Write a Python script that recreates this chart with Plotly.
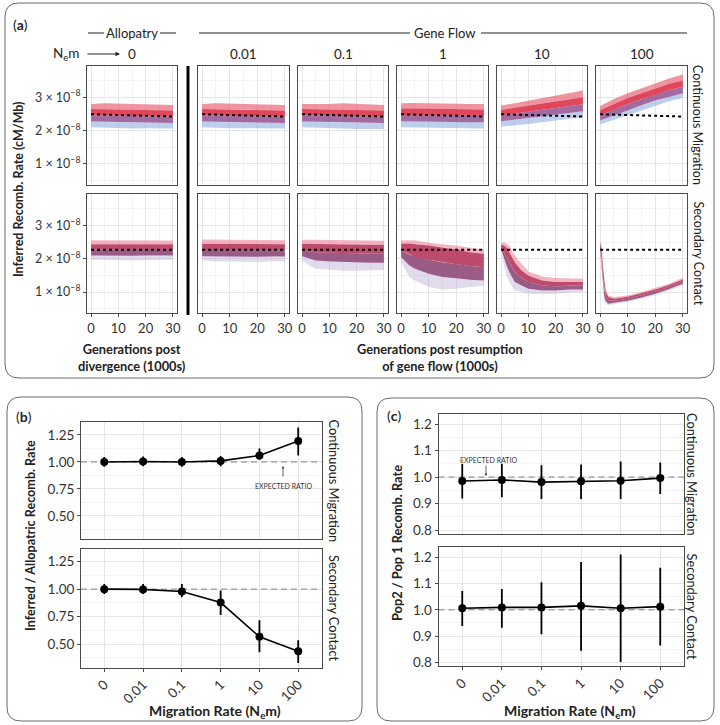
import plotly.graph_objects as go

W, H = 720, 725
FONT = "Lato"
TXT = "#222222"

# ---------------- data ----------------
NM_LABELS = ["0", "0.01", "0.1", "1", "10", "100"]
GEN_TICKS = [0, 10, 20, 30]
RATE_TICKS = [1, 2, 3]
RATE_TICK_TEXT = ["1 × 10<sup>−8</sup>", "2 × 10<sup>−8</sup>", "3 × 10<sup>−8</sup>"]

# expected rate (dashed), units of 1e-8 cM/Mb
EXP_T = [0, 30]
EXP_CM = [2.49, 2.42]
EXP_SC = [2.27, 2.27]

# envelopes of the replicate trajectories: (t, outer_lo, core_lo, core_hi, outer_hi), 1e-8 units
CM_NM0 = [(0, 2.10, 2.27, 2.65, 2.80), (5, 2.08, 2.26, 2.64, 2.82), (10, 2.08, 2.25, 2.63, 2.80),
          (15, 2.06, 2.25, 2.62, 2.79), (20, 2.07, 2.24, 2.62, 2.80), (25, 2.06, 2.23, 2.61, 2.78),
          (30, 2.06, 2.23, 2.60, 2.77)]
CM_NM001 = [(0, 2.10, 2.27, 2.65, 2.80), (5, 2.08, 2.26, 2.65, 2.82), (10, 2.07, 2.25, 2.64, 2.80),
            (15, 2.07, 2.25, 2.63, 2.80), (20, 2.06, 2.24, 2.62, 2.79), (25, 2.06, 2.23, 2.61, 2.78),
            (30, 2.06, 2.23, 2.60, 2.77)]
CM_NM01 = [(0, 2.10, 2.27, 2.65, 2.80), (5, 2.08, 2.26, 2.64, 2.81), (10, 2.07, 2.25, 2.64, 2.80),
           (15, 2.06, 2.25, 2.63, 2.82), (20, 2.05, 2.24, 2.62, 2.80), (25, 2.04, 2.23, 2.61, 2.78),
           (30, 2.05, 2.23, 2.60, 2.77)]
CM_NM1 = [(0, 2.10, 2.28, 2.66, 2.82), (5, 2.09, 2.27, 2.66, 2.83), (10, 2.08, 2.27, 2.65, 2.82),
          (15, 2.08, 2.26, 2.65, 2.82), (20, 2.07, 2.26, 2.64, 2.81), (25, 2.07, 2.25, 2.64, 2.80),
          (30, 2.06, 2.25, 2.63, 2.80)]
CM_NM10 = [(0, 2.12, 2.28, 2.62, 2.75), (5, 2.15, 2.33, 2.68, 2.82), (10, 2.20, 2.38, 2.75, 2.90),
           (15, 2.25, 2.43, 2.82, 2.98), (20, 2.30, 2.48, 2.88, 3.05), (25, 2.35, 2.53, 2.94, 3.12),
           (30, 2.40, 2.58, 3.00, 3.20)]
CM_NM100 = [(0, 2.18, 2.30, 2.62, 2.74), (5, 2.32, 2.46, 2.80, 2.95), (10, 2.48, 2.62, 2.98, 3.12),
            (15, 2.62, 2.76, 3.12, 3.28), (20, 2.76, 2.90, 3.26, 3.42), (25, 2.88, 3.02, 3.40, 3.56),
            (30, 2.98, 3.12, 3.50, 3.68)]

SC_NM0 = [(0, 1.97, 2.10, 2.44, 2.56), (5, 1.96, 2.09, 2.44, 2.56), (10, 1.97, 2.10, 2.44, 2.57),
          (15, 1.95, 2.09, 2.43, 2.56), (20, 1.96, 2.10, 2.44, 2.56), (25, 1.96, 2.09, 2.44, 2.55),
          (30, 1.97, 2.10, 2.44, 2.55)]
SC_NM001 = [(0, 1.95, 2.08, 2.45, 2.58), (5, 1.92, 2.07, 2.45, 2.57), (10, 1.92, 2.07, 2.44, 2.57),
            (15, 1.90, 2.07, 2.44, 2.56), (20, 1.90, 2.06, 2.44, 2.56), (25, 1.92, 2.07, 2.44, 2.56),
            (30, 1.93, 2.07, 2.44, 2.56)]
SC_NM01 = [(0, 1.95, 2.08, 2.45, 2.57), (3, 1.78, 2.00, 2.45, 2.57), (5, 1.70, 1.95, 2.45, 2.57),
           (10, 1.66, 1.92, 2.44, 2.56), (15, 1.64, 1.90, 2.43, 2.55), (20, 1.64, 1.90, 2.43, 2.55),
           (25, 1.65, 1.88, 2.42, 2.55), (30, 1.66, 1.88, 2.42, 2.54)]
SC_NM1 = [(0, 1.90, 2.05, 2.45, 2.55), (3, 1.45, 1.80, 2.46, 2.56), (5, 1.35, 1.70, 2.44, 2.55),
          (10, 1.15, 1.55, 2.40, 2.48), (15, 1.08, 1.45, 2.35, 2.44), (20, 1.10, 1.40, 2.28, 2.40),
          (25, 1.15, 1.37, 2.20, 2.33), (30, 1.18, 1.35, 2.15, 2.27)]
SC_NM10 = [(0, 2.22, 2.28, 2.42, 2.48), (1, 1.80, 2.00, 2.40, 2.50), (2, 1.50, 1.80, 2.35, 2.46),
           (3, 1.30, 1.60, 2.20, 2.40), (5, 1.05, 1.30, 1.90, 2.10), (7.5, 1.00, 1.20, 1.65, 1.85),
           (10, 0.95, 1.10, 1.50, 1.62), (15, 0.95, 1.05, 1.35, 1.47), (20, 0.95, 1.05, 1.30, 1.42),
           (25, 0.98, 1.08, 1.30, 1.40), (30, 1.00, 1.08, 1.30, 1.40)]
SC_NM100 = [(0, 2.20, 2.25, 2.45, 2.50), (0.5, 1.60, 1.75, 2.30, 2.45), (1, 1.00, 1.15, 1.75, 1.90),
            (1.5, 0.75, 0.85, 1.30, 1.40), (2, 0.65, 0.72, 1.00, 1.10), (3, 0.60, 0.65, 0.85, 0.90),
            (5, 0.64, 0.68, 0.80, 0.85), (10, 0.70, 0.74, 0.86, 0.90), (15, 0.80, 0.84, 0.96, 1.00),
            (20, 0.90, 0.95, 1.08, 1.13), (25, 1.05, 1.09, 1.21, 1.25), (30, 1.20, 1.25, 1.38, 1.43)]

CM_BANDS = [CM_NM0, CM_NM001, CM_NM01, CM_NM1, CM_NM10, CM_NM100]
SC_BANDS = [SC_NM0, SC_NM001, SC_NM01, SC_NM1, SC_NM10, SC_NM100]

# panel (b): inferred / allopatric ratio
B_CM_MEAN = [1.000, 1.005, 1.000, 1.010, 1.060, 1.195]
B_CM_LO = [0.955, 0.960, 0.955, 0.960, 1.020, 1.060]
B_CM_HI = [1.045, 1.050, 1.045, 1.055, 1.125, 1.320]
B_SC_MEAN = [1.000, 0.998, 0.979, 0.878, 0.566, 0.434]
B_SC_LO = [0.955, 0.955, 0.927, 0.765, 0.425, 0.327]
B_SC_HI = [1.046, 1.046, 1.046, 0.988, 0.716, 0.535]

# panel (c): pop2 / pop1 ratio
C_CM_MEAN = [0.985, 0.989, 0.981, 0.984, 0.986, 0.996]
C_CM_LO = [0.919, 0.924, 0.917, 0.917, 0.917, 0.936]
C_CM_HI = [1.049, 1.050, 1.045, 1.047, 1.059, 1.055]
C_SC_MEAN = [1.006, 1.009, 1.009, 1.015, 1.006, 1.012]
C_SC_LO = [0.939, 0.932, 0.907, 0.845, 0.802, 0.865]
C_SC_HI = [1.071, 1.079, 1.104, 1.181, 1.210, 1.159]

# ---------------- helpers ----------------
def fx(p):
    return p / W


def fy(p):
    return 1 - p / H


def axname(kind, i):
    return f"{kind}axis" if i == 1 else f"{kind}axis{i}"


def axref(kind, i):
    return kind if i == 1 else f"{kind}{i}"


fig = go.Figure()
layout = {}
BORDER = "#4a4a4a"
GRID = "#e6e6e6"
MINOR = "#f3f3f3"
TICKC = "#333333"


def base_axis(domain, rng, showlabels, size=13, **kw):
    d = dict(domain=domain, range=rng, showline=True, mirror=True, linecolor=BORDER, linewidth=1,
             showgrid=True, gridcolor=GRID, gridwidth=1, zeroline=False, automargin=False,
             ticks="outside" if showlabels else "", ticklen=3, tickcolor=BORDER,
             showticklabels=showlabels, tickfont=dict(family=FONT, size=size, color=TICKC),
             fixedrange=True)
    d.update(kw)
    return d


# ---------------- panel (a) ----------------
COLS = [(87, 177), (198, 289), (298, 388), (397, 488), (497, 587), (596, 687)]
ROWS = [(65.5, 185), (194, 313)]

ROW_STYLE = [
    dict(out_lo="rgba(125,160,220,0.50)", out_hi="rgba(228,60,85,0.55)",
         core_lo="rgba(150,85,148,0.88)", core_hi="rgba(220,45,68,0.88)"),
    dict(out_lo="rgba(175,160,210,0.38)", out_hi="rgba(232,100,128,0.48)",
         core_lo="rgba(140,68,118,0.88)", core_hi="rgba(182,50,88,0.88)"),
]


def band(i, t, lo, hi, color):
    fig.add_trace(go.Scatter(x=t + t[::-1], y=lo + hi[::-1], fill="toself", fillcolor=color,
                             line=dict(width=0), mode="lines", hoverinfo="skip", showlegend=False,
                             xaxis=axref("x", i), yaxis=axref("y", i)))


for r, (bands, exp) in enumerate([(CM_BANDS, EXP_CM), (SC_BANDS, EXP_SC)]):
    st = ROW_STYLE[r]
    for c, tab in enumerate(bands):
        i = r * 6 + c + 1
        x0, x1 = COLS[c]
        y0, y1 = ROWS[r]
        layout[axname("x", i)] = base_axis(
            [fx(x0), fx(x1)], [-1.5, 31.5], r == 1, size=13, anchor=axref("y", i), tickvals=GEN_TICKS,
            minor=dict(tickvals=[5, 15, 25], showgrid=True, gridcolor=MINOR, gridwidth=1))
        layout[axname("y", i)] = base_axis(
            [fy(y1), fy(y0)], [0.37, 3.95], c == 0, size=12.5, anchor=axref("x", i), tickvals=RATE_TICKS,
            ticktext=RATE_TICK_TEXT,
            minor=dict(tickvals=[0.5, 1.5, 2.5, 3.5], showgrid=True, gridcolor=MINOR, gridwidth=1))
        t = [row[0] for row in tab]
        olo = [row[1] for row in tab]
        clo = [row[2] for row in tab]
        chi = [row[3] for row in tab]
        ohi = [row[4] for row in tab]
        mid = [(a + b) / 2 for a, b in zip(clo, chi)]
        band(i, t, olo, clo, st["out_lo"])
        band(i, t, chi, ohi, st["out_hi"])
        band(i, t, clo, mid, st["core_lo"])
        band(i, t, mid, chi, st["core_hi"])
        fig.add_trace(go.Scatter(x=EXP_T, y=exp, mode="lines", hoverinfo="skip", showlegend=False,
                                 line=dict(color="black", width=2, dash="3px,3px"),
                                 xaxis=axref("x", i), yaxis=axref("y", i)))

# ---------------- panels (b) and (c) ----------------
B_X = (81, 321.5)
C_X = (438.5, 684)
B_ROWS = [(422, 539), (548.5, 667.5)]
C_ROWS = [(414, 533.5), (547, 666)]
XIDX = list(range(len(NM_LABELS)))

specs = [
    (13, B_X, B_ROWS[0], False, B_CM_MEAN, B_CM_LO, B_CM_HI, [0.287, 1.37], [0.5, 0.75, 1.0, 1.25], ".2f", 0.125),
    (14, B_X, B_ROWS[1], True, B_SC_MEAN, B_SC_LO, B_SC_HI, [0.287, 1.37], [0.5, 0.75, 1.0, 1.25], ".2f", 0.125),
    (15, C_X, C_ROWS[0], False, C_CM_MEAN, C_CM_LO, C_CM_HI, [0.787, 1.238], [0.8, 0.9, 1.0, 1.1, 1.2], ".1f", 0.05),
    (16, C_X, C_ROWS[1], True, C_SC_MEAN, C_SC_LO, C_SC_HI, [0.787, 1.238], [0.8, 0.9, 1.0, 1.1, 1.2], ".1f", 0.05),
]
for i, (xa, xb), (ya, yb), bottom, mean, lo, hi, yr, yt, yfmt, mstep in specs:
    layout[axname("x", i)] = base_axis(
        [fx(xa), fx(xb)], [-0.6, 5.6], bottom, size=13.5, anchor=axref("y", i), tickvals=XIDX,
        ticktext=NM_LABELS, tickangle=-45)
    minors = [round(v + mstep, 4) for v in yt[:-1]] + [round(yt[0] - mstep, 4), round(yt[-1] + mstep, 4)]
    layout[axname("y", i)] = base_axis(
        [fy(yb), fy(ya)], yr, True, size=13.5, anchor=axref("x", i), tickvals=yt, tickformat=yfmt,
        minor=dict(tickvals=minors, showgrid=True, gridcolor=MINOR, gridwidth=1))
    fig.add_trace(go.Scatter(x=[-0.6, 5.6], y=[1, 1], mode="lines", hoverinfo="skip", showlegend=False,
                             line=dict(color="#808080", width=1, dash="6px,4px"),
                             xaxis=axref("x", i), yaxis=axref("y", i)))
    fig.add_trace(go.Scatter(
        x=XIDX, y=mean, mode="lines+markers", showlegend=False, hoverinfo="skip",
        line=dict(color="black", width=1.6), marker=dict(color="black", size=8),
        error_y=dict(type="data", symmetric=False, array=[h - m for h, m in zip(hi, mean)],
                     arrayminus=[m - l for m, l in zip(mean, lo)], width=0, thickness=1.8, color="black"),
        xaxis=axref("x", i), yaxis=axref("y", i)))

# ---------------- annotations ----------------
ann = []


def text(x, y, s, size=13, angle=0, bold=False, xanchor="center", yanchor="middle", color=TXT, align="center"):
    if bold:
        s = f"<b>{s}</b>"
    ann.append(dict(x=fx(x), y=fy(y), xref="paper", yref="paper", text=s, showarrow=False,
                    textangle=angle, xanchor=xanchor, yanchor=yanchor, align=align,
                    font=dict(family=FONT, size=size, color=color)))


STRIP = 12.5
TITLE = 12.8

text(11, 25, "(<b>a</b>)", 14, xanchor="left")
text(14, 416, "(<b>b</b>)", 14, xanchor="left")
text(385, 415, "(<b>c</b>)", 14, xanchor="left")

text(132, 33, "Allopatry", 13)
text(445, 33, "Gene Flow", 13)
col_centers = [(a + b) / 2 for a, b in COLS]
for c, lab in enumerate(NM_LABELS):
    text(col_centers[c], 54, lab, 13.5)
text(66, 54, "N<sub>e</sub>m", 13.5)
ann.append(dict(x=fx(120), y=fy(54), xref="paper", yref="paper", ax=-34, ay=0, text="",
                showarrow=True, arrowhead=2, arrowsize=0.9, arrowwidth=1, arrowcolor=TXT))

text(18, 189, "Inferred Recomb. Rate (cM/Mb)", 12.5, angle=-90, bold=True)
text(698, 125, "Continuous Migration", STRIP, angle=90)
text(698, 253.5, "Secondary Contact", STRIP, angle=90)
text(132, 357, "Generations post<br>divergence (1000s)", TITLE, bold=True)
text(440, 357, "Generations post resumption<br>of gene flow (1000s)", TITLE, bold=True)

# (b)
text(30, 536, "Inferred / Allopatric Recomb. Rate", 12.6, angle=-90, bold=True)
text(334, 480.5, "Continuous Migration", STRIP + 0.3, angle=90)
text(334, 608, "Secondary Contact", STRIP + 0.3, angle=90)
text(215, 711, "Migration Rate (N<sub>e</sub>m)", 14, bold=True)
text(283, 486, "EXPECTED RATIO", 7, color="#333333")
ann.append(dict(x=fx(283), y=fy(466), xref="paper", yref="paper", ax=0, ay=12, text="",
                showarrow=True, arrowhead=2, arrowsize=0.6, arrowwidth=0.8, arrowcolor="#333333"))

# (c)
text(397, 543, "Pop2 / Pop 1 Recomb. Rate", 12.8, angle=-90, bold=True)
text(692, 474, "Continuous Migration", STRIP + 0.3, angle=90)
text(692, 606.5, "Secondary Contact", STRIP + 0.3, angle=90)
text(570, 711, "Migration Rate (N<sub>e</sub>m)", 14, bold=True)
text(488, 460, "EXPECTED RATIO", 7, color="#333333")
ann.append(dict(x=fx(486), y=fy(476), xref="paper", yref="paper", ax=0, ay=-12, text="",
                showarrow=True, arrowhead=2, arrowsize=0.6, arrowwidth=0.8, arrowcolor="#333333"))

# ---------------- shapes ----------------
shapes = []


def rrect(x0, y0, x1, y1, r):
    pts = (f"M {fx(x0 + r)},{fy(y0)} L {fx(x1 - r)},{fy(y0)} Q {fx(x1)},{fy(y0)} {fx(x1)},{fy(y0 + r)} "
           f"L {fx(x1)},{fy(y1 - r)} Q {fx(x1)},{fy(y1)} {fx(x1 - r)},{fy(y1)} "
           f"L {fx(x0 + r)},{fy(y1)} Q {fx(x0)},{fy(y1)} {fx(x0)},{fy(y1 - r)} "
           f"L {fx(x0)},{fy(y0 + r)} Q {fx(x0)},{fy(y0)} {fx(x0 + r)},{fy(y0)} Z")
    shapes.append(dict(type="path", xref="paper", yref="paper", path=pts,
                       line=dict(color="#6a6a6a", width=1)))


def hline(x0, x1, y, color=TXT, width=1):
    shapes.append(dict(type="line", xref="paper", yref="paper", x0=fx(x0), x1=fx(x1), y0=fy(y), y1=fy(y),
                       line=dict(color=color, width=width)))


rrect(5, 3, 714, 378, 14)
rrect(7, 397, 362, 721, 14)
rrect(377, 398, 714, 721, 14)
hline(88, 104, 33)
hline(160, 176, 33)
hline(199, 410, 33)
hline(481, 687, 33)
shapes.append(dict(type="line", xref="paper", yref="paper", x0=fx(188), x1=fx(188), y0=fy(66), y1=fy(315),
                   line=dict(color="black", width=3)))

layout.update(dict(width=W, height=H, margin=dict(l=0, r=0, t=0, b=0), autosize=False,
                   paper_bgcolor="white", plot_bgcolor="white", showlegend=False,
                   annotations=ann, shapes=shapes, font=dict(family=FONT, color=TXT)))
fig.update_layout(**layout)
fig.write_html("out.html", config={"displayModeBar": False},
               post_script="document.body.style.margin='0';document.body.style.overflow='hidden';")
